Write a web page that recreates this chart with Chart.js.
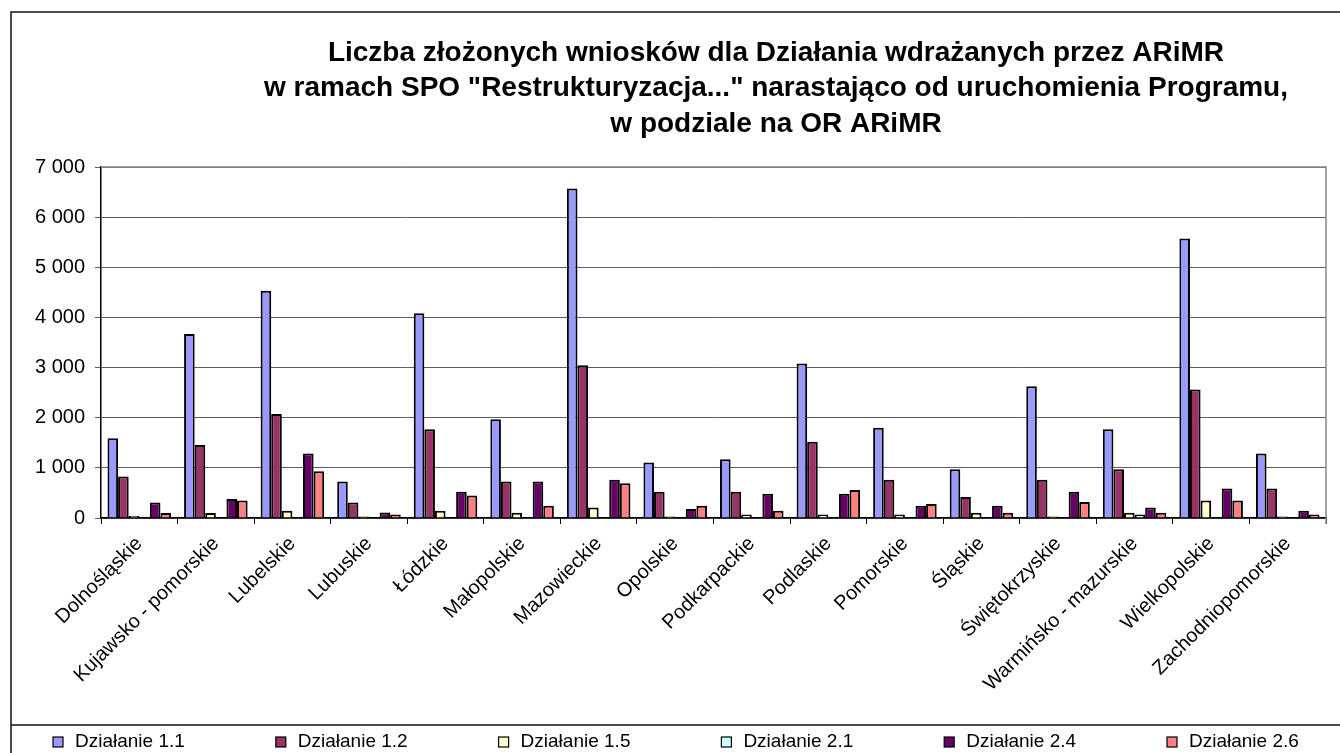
<!doctype html>
<html lang="pl">
<head>
<meta charset="utf-8">
<title>Liczba złożonych wniosków - ARiMR</title>
<script src="https://cdn.jsdelivr.net/npm/chart.js@4.4.1/dist/chart.umd.min.js"></script>
<style>
  html, body { margin: 0; padding: 0; background: #fff; }
  #wrap { position: relative; width: 1340px; height: 753px; }
</style>
</head>
<body>
<div id="wrap"><canvas id="chart"></canvas></div>

<script>
// --- dane ---
const regions = ['Dolnośląskie', 'Kujawsko - pomorskie', 'Lubelskie', 'Lubuskie', 'Łódzkie', 'Małopolskie',
  'Mazowieckie', 'Opolskie', 'Podkarpackie', 'Podlaskie', 'Pomorskie', 'Śląskie', 'Świętokrzyskie',
  'Warmińsko - mazurskie', 'Wielkopolskie', 'Zachodniopomorskie'];

const seriesNames = ['Działanie 1.1', 'Działanie 1.2', 'Działanie 1.5', 'Działanie 2.1', 'Działanie 2.4', 'Działanie 2.6'];

const dz11 = [1590, 3668, 4530, 728, 4085, 1967, 6569, 1105, 1172, 3080, 1800, 974, 2629, 1768, 5575, 1284];
const dz12 = [827, 1457, 2072, 310, 1768, 728, 3046, 523, 523, 1522, 761, 417, 761, 974, 2563, 589];
const dz15 = [40, 100, 145, 30, 145, 105, 211, 30, 72, 72, 72, 105, 30, 105, 350, 30];
const dz21 = [0, 0, 0, 0, 0, 0, 0, 0, 0, 0, 0, 0, 0, 70, 0, 0];
const dz24 = [310, 378, 1284, 111, 523, 728, 761, 179, 483, 483, 244, 244, 523, 211, 589, 145];
const dz26 = [100, 350, 934, 72, 450, 244, 695, 244, 145, 556, 278, 105, 318, 105, 350, 72];

const yTickMin = 0;
const yTickMax = 7000;
const yTickStep = 1000;

const titleLines = [
  'Liczba złożonych wniosków dla Działania wdrażanych przez ARiMR',
  'w ramach SPO "Restrukturyzacja..." narastająco od uruchomienia Programu,',
  'w podziale na OR ARiMR'
];

const colors = ['#9999FF', '#993366', '#FFFFCC', '#CCFFFF', '#660066', '#FF8080'];
const allValues = [dz11, dz12, dz15, dz21, dz24, dz26];

const FONT = '"Liberation Sans", Arial, sans-serif';

function fmtThousands(v) {
  return String(v).replace(/\B(?=(\d{3})+(?!\d))/g, ' ');
}

// ramka, tytuł i legenda rozłożona jak w Excelu
const excelFrame = {
  id: 'excelFrame',
  beforeDraw(chart) {
    const ctx = chart.ctx;
    ctx.save();
    ctx.fillStyle = '#fff';
    ctx.fillRect(0, 0, chart.width, chart.height);
    ctx.restore();
  },
  afterDraw(chart) {
    const ctx = chart.ctx;
    const a = chart.chartArea;
    ctx.save();

    // prawa i górna krawędź obszaru kreślenia
    ctx.strokeStyle = '#8a8a8a';
    ctx.lineWidth = 1.5;
    ctx.beginPath();
    ctx.moveTo(a.left, a.top);
    ctx.lineTo(a.right, a.top);
    ctx.lineTo(a.right, a.bottom + 6);
    ctx.stroke();

    // obramowanie wykresu
    ctx.strokeStyle = '#111';
    ctx.lineWidth = 1.5;
    ctx.beginPath();
    ctx.moveTo(11, chart.height);
    ctx.lineTo(11, 12);
    ctx.lineTo(chart.width, 12);
    ctx.moveTo(11, 725);
    ctx.lineTo(chart.width, 725);
    ctx.stroke();

    // tytuł
    ctx.fillStyle = '#000';
    ctx.font = 'bold 28px ' + FONT;
    ctx.textAlign = 'center';
    ctx.textBaseline = 'middle';
    titleLines.forEach(function (t, i) {
      ctx.fillText(t, 776, 53 + i * 35.5);
    });

    // legenda
    ctx.font = '19px ' + FONT;
    ctx.textAlign = 'left';
    chart.data.datasets.forEach(function (ds, i) {
      const x = 53 + i * 222.8;
      const y = 742;
      ctx.fillStyle = ds.backgroundColor;
      ctx.fillRect(x, y - 5, 10, 10);
      ctx.strokeStyle = '#000';
      ctx.lineWidth = 1.2;
      ctx.strokeRect(x, y - 5, 10, 10);
      ctx.fillStyle = '#000';
      ctx.fillText(ds.label, x + 22, y);
    });

    ctx.restore();
  }
};

const datasets = seriesNames.map(function (name, i) {
  return {
    label: name,
    data: allValues[i],
    backgroundColor: colors[i],
    borderColor: '#000',
    borderWidth: 2,
    borderSkipped: 'start',
    categoryPercentage: 0.83,
    barPercentage: 1.0
  };
});

new Chart(document.getElementById('chart'), {
  type: 'bar',
  data: { labels: regions, datasets: datasets },
  plugins: [excelFrame],
  options: {
    responsive: true,
    maintainAspectRatio: false,
    animation: false,
    layout: { padding: { left: 0, right: 14, top: 167, bottom: 35 } },
    plugins: {
      legend: { display: false },
      title: { display: false },
      tooltip: { enabled: false }
    },
    scales: {
      x: {
        afterFit: function (scale) { scale.height = 200; },
        grid: {
          offset: true,
          drawOnChartArea: false,
          drawTicks: true,
          tickLength: 6,
          color: '#000',
          lineWidth: 1
        },
        border: { color: '#000', width: 1.5 },
        ticks: {
          color: '#000',
          maxRotation: 45,
          minRotation: 45,
          autoSkip: false,
          padding: 8,
          font: { family: FONT, size: 20 }
        }
      },
      y: {
        min: yTickMin,
        max: yTickMax,
        afterFit: function (scale) { scale.width = 101; },
        grid: {
          color: '#5e5e5e',
          lineWidth: 1,
          drawTicks: true,
          tickLength: 6
        },
        border: { color: '#000', width: 1.5 },
        ticks: {
          stepSize: yTickStep,
          color: '#000',
          padding: 10,
          font: { family: FONT, size: 20 },
          callback: function (v) { return fmtThousands(v); }
        }
      }
    }
  }
});
</script>
</body>
</html>
